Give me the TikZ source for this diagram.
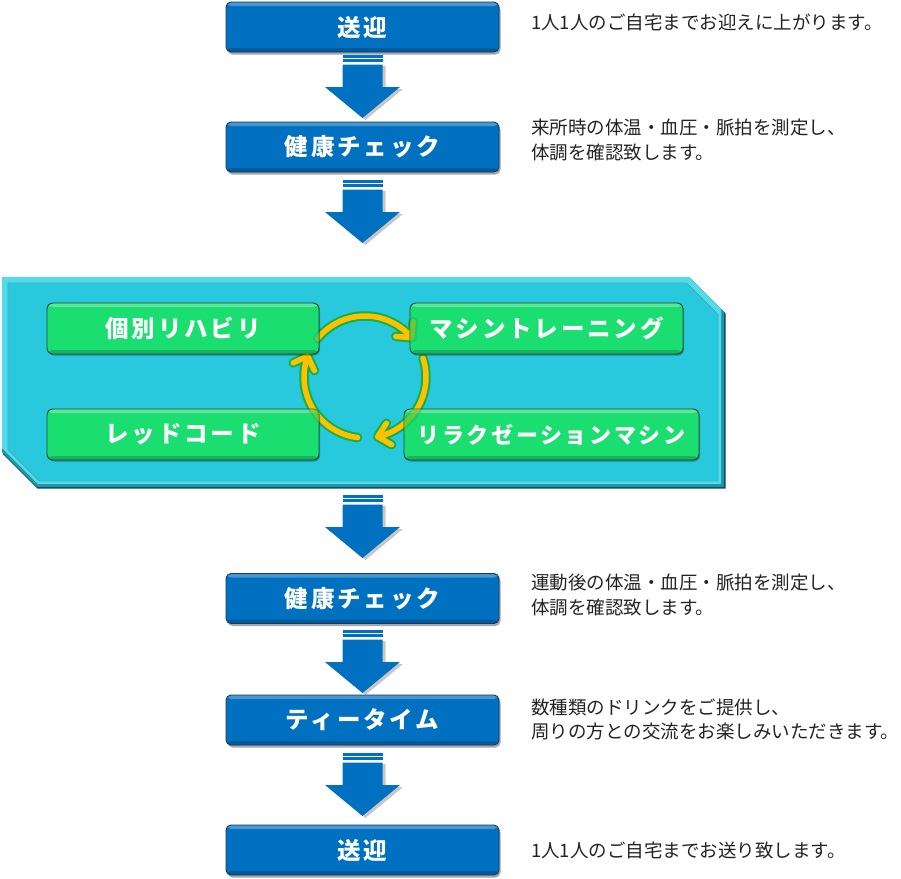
\documentclass[tikz,border=0pt]{standalone}
\usepackage{fontspec}
\newfontfamily\jp{Noto Sans CJK JP}
\newfontfamily\jpt{Noto Sans CJK JP}[LetterSpace=12]
\usetikzlibrary{shadows}
\definecolor{boxblue}{RGB}{0,112,192}
\definecolor{bluedark}{RGB}{25,55,95}
\definecolor{boxgreen}{RGB}{27,222,112}
\definecolor{greendark}{RGB}{35,70,50}
\definecolor{panelcyan}{RGB}{41,201,221}
\definecolor{panellight}{RGB}{80,220,236}
\definecolor{paneldark}{RGB}{25,150,170}
\definecolor{paneledge}{RGB}{20,70,85}
\definecolor{cycyellow}{RGB}{255,192,0}
\definecolor{cycgreen}{RGB}{20,175,75}
\definecolor{desctext}{RGB}{35,35,35}
\newcommand\blkarrow[1]{%
  \begin{scope}[shift={(362.5,#1)}]
    \fill[black,opacity=.22] (-17,11) -- (23,11) -- (23,34) -- (40.5,34) -- (3,65) -- (-34.5,34) -- (-17,34) -- cycle;
    \fill[boxblue] (-20,0) rectangle (20,2.5);
    \fill[boxblue] (-20,4.2) rectangle (20,6.7);
    \fill[boxblue] (-20,9.5) -- (20,9.5) -- (20,32) -- (37.5,32) -- (0,63) -- (-37.5,32) -- (-20,32) -- cycle;
  \end{scope}}
\newcommand\cycarc[5]{%
  \draw[#1] plot[domain=#2:#3,samples=40] ({365+61*cos(\x)},{377-61*sin(\x)})
    ({365+61*cos(#3)+16*cos(#4)},{377-61*sin(#3)-16*sin(#4)})
    -- ({365+61*cos(#3)},{377-61*sin(#3)})
    -- ({365+61*cos(#3)+16*cos(#5)},{377-61*sin(#3)-16*sin(#5)});}
\newcommand\allcyc[1]{%
  \cycarc{#1}{141}{40}{175}{85}
  \cycarc{#1}{18}{-78}{57}{-30}
  \cycarc{#1}{-97}{-200}{205}{295}}
\begin{document}
\begin{tikzpicture}[x=1pt,y=-1pt,
  titlefont/.style={font={\jpt\bfseries\fontsize{#1}{#1}\selectfont}},
  bevel/.style={path picture={
      \fill[white,opacity=.28] (path picture bounding box.north west) rectangle ([yshift=-4pt]path picture bounding box.north east);
      \fill[black,opacity=.18] ([yshift=4pt]path picture bounding box.south west) rectangle (path picture bounding box.south east);}},
  bluebox/.style={draw=bluedark, line width=0.9pt, fill=boxblue, rounded corners=5pt,
      minimum width=273pt, minimum height=50pt, inner sep=0pt, text=white, titlefont=23.5, bevel,
      drop shadow={shadow xshift=1.5pt, shadow yshift=-2.5pt, opacity=.35, fill=black}},
  greenbox/.style={draw=greendark, line width=0.9pt, fill=boxgreen, rounded corners=6pt,
      minimum height=51pt, inner sep=0pt, text=white, titlefont=23.5, bevel,
      drop shadow={shadow xshift=1pt, shadow yshift=-1.5pt, opacity=.3, fill=black}},
  desc/.style={font={\jp\fontsize{18.5}{24.5}\selectfont}, text=desctext, inner sep=0pt, align=left, anchor=west},
  cycout/.style={draw=cycgreen, line width=9.5pt, line cap=round, line join=round},
  cycin/.style={draw=cycyellow, line width=5.5pt, line cap=round, line join=round},
  cycoutt/.style={draw=cycgreen, line width=9.5pt, line cap=round, line join=round, opacity=.35},
  cycint/.style={draw=cycyellow, line width=5.5pt, line cap=round, line join=round, opacity=.35}]
\useasboundingbox (0,0) rectangle (901,878);

% panel
\fill[paneledge] (3,278) -- (690,278) -- (725.5,313.5) -- (725.5,488.5) -- (37.5,488.5) -- (3,454) -- cycle;
\fill[paneldark] (2,277) -- (689,277) -- (724,312) -- (724,487) -- (37,487) -- (2,452) -- cycle;
\fill[panellight] (2,277) -- (689,277) -- (721,309) -- (721,484) -- (38,484) -- (2,448) -- cycle;
\draw[fill=panelcyan, draw=paneldark!80, line width=0.8pt] (8,283) -- (686.5,283) -- (718,314.5) -- (718,481) -- (39.5,481) -- (8,449.5) -- cycle;

% cycle arrows (under the boxes)
\coordinate (cc) at (365,377);
\allcyc{cycout}
\allcyc{cycin}

% green boxes
\node[greenbox, minimum width=272pt] (g1) at (183,328.5) {個別リハビリ};
\node[greenbox, minimum width=273pt] (g2) at (546.5,328.5) {マシントレーニング};
\node[greenbox, minimum width=272pt] (g3) at (183,434.5) {レッドコード};
\node[greenbox, minimum width=295pt, titlefont=22] (g4) at (551.5,434.5) {リラクゼーションマシン};

% faint cycle arrows showing through the boxes
\begin{scope}
  \clip (g1.south west) rectangle (g1.north east)
        (g2.south west) rectangle (g2.north east)
        (g3.south west) rectangle (g3.north east)
        (g4.south west) rectangle (g4.north east);
  \allcyc{cycoutt}
  \allcyc{cycint}
\end{scope}

% blue boxes
\node[bluebox] (b1) at (362.5,27) {送迎};
\node[bluebox] (b2) at (362.5,147) {健康チェック};
\node[bluebox] (b3) at (362.5,598.5) {健康チェック};
\node[bluebox] (b4) at (362.5,720) {ティータイム};
\node[bluebox] (b5) at (362.5,850) {送迎};

% block arrows
\blkarrow{55}
\blkarrow{180}
\blkarrow{495}
\blkarrow{630}
\blkarrow{753}

% descriptions
\node[desc] (t1) at (531,22) {1人1人のご自宅までお迎えに上がります。};
\node[desc] (t2) at (531,140) {来所時の体温・血圧・脈拍を測定し、\\体調を確認致します。};
\node[desc] (t3) at (531,595) {運動後の体温・血圧・脈拍を測定し、\\体調を確認致します。};
\node[desc] (t4) at (531,719.5) {数種類のドリンクをご提供し、\\周りの方との交流をお楽しみいただきます。};
\node[desc] (t5) at (531,850) {1人1人のご自宅までお送り致します。};
\end{tikzpicture}
\end{document}
